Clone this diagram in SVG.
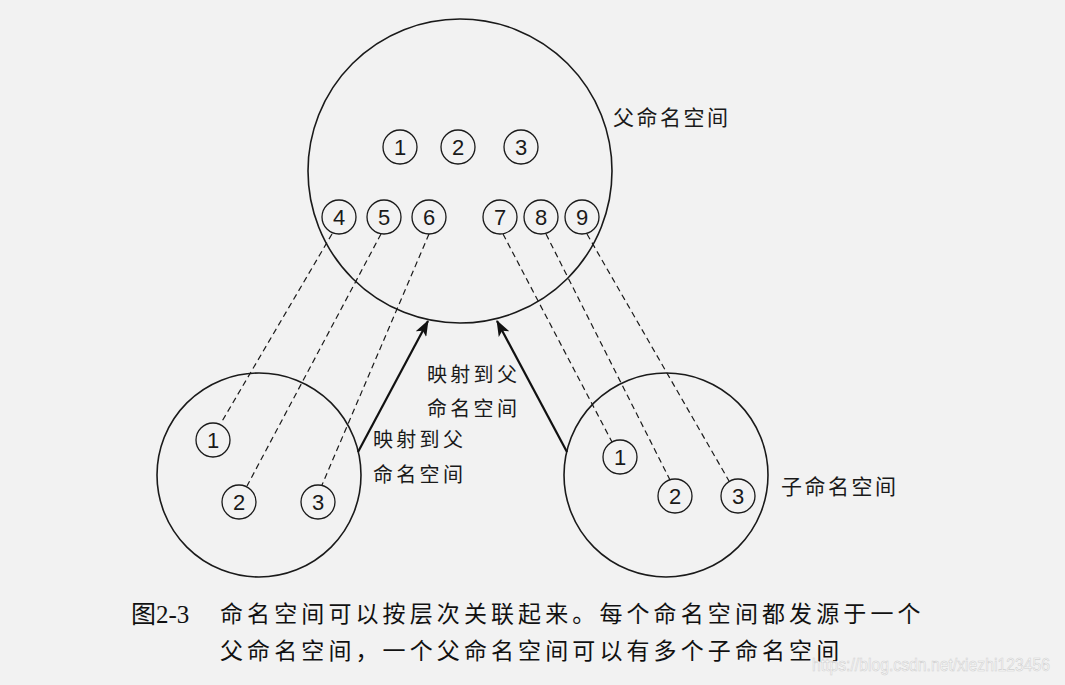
<svg xmlns="http://www.w3.org/2000/svg" width="1065" height="685" viewBox="0 0 1065 685">
<style>
.big{fill:none;stroke:#1a1a1a;stroke-width:1.6}
.sm{fill:none;stroke:#1a1a1a;stroke-width:1.3}
.num{font-family:"Liberation Sans Narrow","Liberation Sans",sans-serif;font-size:22px;fill:#1a1a1a;text-anchor:middle}
.dash{fill:none;stroke:#1a1a1a;stroke-width:1.2;stroke-dasharray:6 4}
.arr{fill:none;stroke:#111;stroke-width:2.2}
.lbl{font-family:"Noto Sans CJK SC",sans-serif;font-size:20px;fill:#1a1a1a;letter-spacing:3.3px}
.lbl2{font-family:"Noto Sans CJK SC",sans-serif;font-size:21px;fill:#1a1a1a;letter-spacing:2.5px}
.cap{font-family:"Liberation Serif","Noto Sans CJK SC",serif;font-size:23px;fill:#111;letter-spacing:4.1px}
.fig{font-family:"Liberation Serif","Noto Sans CJK SC",serif;font-size:25px;fill:#111}
</style>
<defs>
<marker id="ah" viewBox="0 0 16 12" refX="15" refY="6" markerWidth="16" markerHeight="12" markerUnits="userSpaceOnUse" orient="auto">
<path d="M0,0 L16,6 L0,12 L4,6 Z" fill="#111"/>
</marker>
</defs>
<rect width="1065" height="685" fill="#f2f2f2"/>

<g id="parent">
<circle class="big" cx="460" cy="171" r="152"/>
<text class="lbl2" x="613" y="125">父命名空间</text>
<g id="p1"><circle class="sm" cx="400" cy="147" r="17"/><text class="num" x="400" y="155">1</text></g>
<g id="p2"><circle class="sm" cx="458" cy="147" r="17"/><text class="num" x="458" y="155">2</text></g>
<g id="p3"><circle class="sm" cx="521" cy="147" r="17"/><text class="num" x="521" y="155">3</text></g>
<g id="p4"><circle class="sm" cx="339" cy="217" r="17"/><text class="num" x="339" y="225">4</text></g>
<g id="p5"><circle class="sm" cx="384" cy="217" r="17"/><text class="num" x="384" y="225">5</text></g>
<g id="p6"><circle class="sm" cx="429" cy="217" r="17"/><text class="num" x="429" y="225">6</text></g>
<g id="p7"><circle class="sm" cx="500" cy="217" r="17"/><text class="num" x="500" y="225">7</text></g>
<g id="p8"><circle class="sm" cx="541" cy="217" r="17"/><text class="num" x="541" y="225">8</text></g>
<g id="p9"><circle class="sm" cx="582" cy="217" r="17"/><text class="num" x="582" y="225">9</text></g>
</g>

<g id="leftchild">
<circle class="big" cx="259" cy="475" r="102"/>
<g id="l1"><circle class="sm" cx="213" cy="440" r="17"/><text class="num" x="213" y="448">1</text></g>
<g id="l2"><circle class="sm" cx="239" cy="502" r="17"/><text class="num" x="239" y="510">2</text></g>
<g id="l3"><circle class="sm" cx="318" cy="502" r="17"/><text class="num" x="318" y="510">3</text></g>
</g>

<g id="rightchild">
<circle class="big" cx="666" cy="475" r="102"/>
<text class="lbl2" x="781" y="494">子命名空间</text>
<g id="r1"><circle class="sm" cx="620" cy="457" r="17"/><text class="num" x="620" y="465">1</text></g>
<g id="r2"><circle class="sm" cx="675" cy="496" r="17"/><text class="num" x="675" y="504">2</text></g>
<g id="r3"><circle class="sm" cx="738" cy="496" r="17"/><text class="num" x="738" y="504">3</text></g>
</g>

<g id="connectors">
<line class="dash" x1="332" y1="234" x2="221" y2="423"/>
<line class="dash" x1="381" y1="234" x2="247" y2="486"/>
<line class="dash" x1="429" y1="234" x2="322" y2="485"/>
<line class="dash" x1="503" y1="234" x2="612" y2="442"/>
<line class="dash" x1="546" y1="234" x2="670" y2="480"/>
<line class="dash" x1="587" y1="234" x2="729" y2="481"/>
<line class="arr" x1="358" y1="452" x2="428" y2="321" marker-end="url(#ah)"/>
<line class="arr" x1="567" y1="452" x2="497" y2="321" marker-end="url(#ah)"/>
</g>

<g id="labels">
<text class="lbl" x="427" y="382">映射到父</text>
<text class="lbl" x="427" y="416">命名空间</text>
<text class="lbl" x="373" y="447">映射到父</text>
<text class="lbl" x="373" y="482">命名空间</text>
</g>

<g id="caption">
<text class="fig" x="131" y="623">图2-3</text>
<text class="cap" x="220" y="622">命名空间可以按层次关联起来。每个命名空间都发源于一个</text>
<text class="cap" x="220" y="659">父命名空间，一个父命名空间可以有多个子命名空间</text>
<text x="812" y="671" font-family="Liberation Sans Narrow, Liberation Sans, sans-serif" font-size="19" textLength="238" lengthAdjust="spacingAndGlyphs" fill="#fbfbfb" stroke="#cfcfcf" stroke-width="0.6">https://blog.csdn.net/xiezhi123456</text>
</g>
</svg>
